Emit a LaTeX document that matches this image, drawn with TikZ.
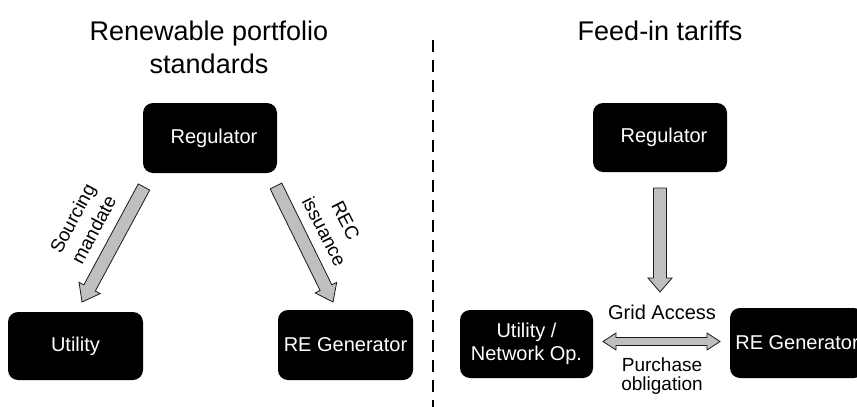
\documentclass[tikz,border=0pt]{standalone}
\usepackage{fontspec}
\setmainfont{Liberation Sans}
\usetikzlibrary{calc}
\tikzset{
 box/.style={fill=black, text=white, rounded corners=10pt, minimum width=134pt, minimum height=70pt, inner sep=0pt, align=center, font=\fontsize{20}{23}\selectfont},
 fat/.style={fill=gray!50, draw=black!90, line width=0.8pt, line join=miter},
 lbl/.style={font=\fontsize{19}{24}\selectfont, align=center, inner sep=0pt},
 ttl/.style={font=\fontsize{27}{33}\selectfont, align=center, inner sep=0pt},
 divider/.style={line width=2.6pt, dash pattern=on 12pt off 8pt}
}
\newcommand{\fatarr}[5]{%
 \coordinate (h-#1-#2) at ($(#2)!#5!(#1)$);
 \filldraw[fat] ($(#1)!#3!90:(#2)$) -- ($(h-#1-#2)!#3!90:(#2)$) -- ($(h-#1-#2)!#4!90:(#2)$) -- (#2) -- ($(h-#1-#2)!#4!-90:(#2)$) -- ($(h-#1-#2)!#3!-90:(#2)$) -- ($(#1)!#3!-90:(#2)$) -- cycle;}
\begin{document}
\begin{tikzpicture}[x=1pt,y=-1pt]
\clip (0,0) rectangle (857,407);
% titles
\node[ttl] (t1) at (209,47) {Renewable portfolio\\standards};
\node[ttl] (t2) at (660,31) {Feed-in tariffs};
% divider
\coordinate (dtop) at (433,40);
\coordinate (dbot) at (433,407);
\draw[divider] (dtop) -- (dbot);
% left panel
\node[box] (reg1) at (210,138) {\hspace*{8pt}Regulator};
\node[box, minimum width=135pt, minimum height=68pt] (util1) at (75.5,346) {Utility};
\node[box, minimum width=135pt] (gen1) at (345.5,345) {RE Generator};
\coordinate (a1s) at (144,187);
\coordinate (a1e) at (82,302);
\coordinate (a2s) at (276,186);
\coordinate (a2e) at (333,302);
\fatarr{a1s}{a1e}{6.5pt}{12pt}{16pt}
\fatarr{a2s}{a2e}{6.5pt}{12pt}{16pt}
\node[lbl, rotate=62] (l1) at (83,224) {Sourcing\\mandate};
\node[lbl, rotate=-63] (l2) at (335,226) {REC\\issuance};
% right panel
\node[box, minimum height=69pt] (reg2) at (660,137.5) {\hspace*{8pt}Regulator};
\node[box, minimum width=133pt, minimum height=68pt] (util2) at (526.5,344) {Utility /\\Network Op.};
\node[box] (gen2) at (797,343) {RE Generator};
\coordinate (a3s) at (660,188);
\coordinate (a3e) at (660,292);
\fatarr{a3s}{a3e}{6.5pt}{12pt}{14pt}
\coordinate (d1) at (603,341.5);
\coordinate (d2) at (720,341.5);
\coordinate (d1h) at ($(d1)!13pt!(d2)$);
\coordinate (d2h) at ($(d2)!13pt!(d1)$);
\filldraw[fat] (d1) -- ($(d1h)!8.5pt!90:(d2)$) -- ($(d1h)!4pt!90:(d2)$) -- ($(d2h)!4pt!-90:(d1)$) -- ($(d2h)!8.5pt!-90:(d1)$) -- (d2) -- ($(d2h)!8.5pt!90:(d1)$) -- ($(d2h)!4pt!90:(d1)$) -- ($(d1h)!4pt!-90:(d2)$) -- ($(d1h)!8.5pt!-90:(d2)$) -- cycle;
\node[lbl, font=\fontsize{20}{21}\selectfont] (ga) at (662,312) {Grid Access};
\node[lbl, font=\fontsize{19}{19}\selectfont] (po) at (662,376) {Purchase\\obligation};
\end{tikzpicture}
\end{document}
